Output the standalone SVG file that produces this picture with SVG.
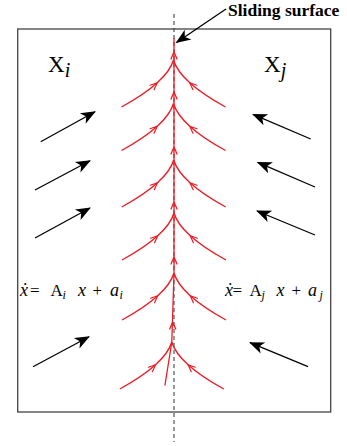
<svg xmlns="http://www.w3.org/2000/svg" xmlns:xlink="http://www.w3.org/1999/xlink" width="347" height="446" viewBox="0 0 347 446">
<style>
.red{fill:none;stroke:#ee1c25;stroke-width:1.3;stroke-linecap:round;stroke-linejoin:round}
.blk{fill:none;stroke:#000;stroke-width:1.3;marker-end:url(#ah)}
.lbl{font-family:"Liberation Serif","Times New Roman",serif;fill:#000}
.it{font-style:italic}
</style>
<defs>
<marker id="chev" markerUnits="userSpaceOnUse" orient="auto" refX="0" refY="0" markerWidth="10" markerHeight="10" overflow="visible">
<path d="M-7,-3 L0,0 L-7,3" fill="none" stroke="#ee1c25" stroke-width="1.2" stroke-linecap="round" stroke-linejoin="round"/>
</marker>
<marker id="ah" markerUnits="userSpaceOnUse" orient="auto" refX="0" refY="0" markerWidth="16" markerHeight="14" overflow="visible">
<path d="M1,0 L-14,-6 L-10,0 L-14,6 Z" fill="#000"/>
</marker>
<path id="br" d="M-52 47 Q-29.25 34.5 -16.25 22.75 Q-3.25 11 0 0" fill="none" stroke="#ee1c25" stroke-width="1.4" marker-mid="url(#chev)"/>
</defs>

<g id="frame">
<rect x="17.7" y="29" width="313" height="383" fill="none" stroke="#444" stroke-width="1.3"/>
</g>

<g id="surface-line">
<line x1="174" y1="14" x2="174" y2="442" stroke="#333" stroke-width="1" stroke-dasharray="4,3"/>
</g>

<g id="trajectories">
<use xlink:href="#br" transform="translate(173.5,60)"/>
<use xlink:href="#br" transform="translate(173.5,60) scale(-1,1)"/>
<use xlink:href="#br" transform="translate(173.5,103.5)"/>
<use xlink:href="#br" transform="translate(173.5,103.5) scale(-1,1)"/>
<use xlink:href="#br" transform="translate(173.7,160)"/>
<use xlink:href="#br" transform="translate(173.7,160) scale(-1,1)"/>
<use xlink:href="#br" transform="translate(174,213)"/>
<use xlink:href="#br" transform="translate(174,213) scale(-1,1)"/>
<use xlink:href="#br" transform="translate(174,273)"/>
<use xlink:href="#br" transform="translate(174,273) scale(-1,1)"/>
<use xlink:href="#br" transform="translate(171.8,342)"/>
<use xlink:href="#br" transform="translate(171.8,342) scale(-1,1)"/>
<path class="red" d="M165 385 L171.8 342 L174 273 L174 38.5" stroke-width="2.4"/>
<path class="red" d="M171 59 L174 52 L177 59"/>
<path class="red" d="M171 99 L174 92 L177 99"/>
<path class="red" d="M171 154 L174 147 L177 154"/>
<path class="red" d="M171 209 L174 202 L177 209"/>
<path class="red" d="M171 264 L174 257 L177 264"/>
<path class="red" d="M169.7 329 L172.7 322 L175.7 329"/>
</g>

<g id="connectors">
<line class="blk" x1="40.7" y1="141.7" x2="95" y2="111.7"/>
<line class="blk" x1="35" y1="190" x2="90" y2="160.7"/>
<line class="blk" x1="35" y1="238" x2="90" y2="208"/>
<line class="blk" x1="33" y1="366.7" x2="89" y2="336.7"/>
<line class="blk" x1="310.7" y1="139" x2="253" y2="114.3"/>
<line class="blk" x1="315" y1="187" x2="257.7" y2="162.3"/>
<line class="blk" x1="315" y1="235" x2="257" y2="211"/>
<line class="blk" x1="308" y1="366.7" x2="250" y2="342.7"/>
<line class="blk" x1="226" y1="9" x2="176.5" y2="42.5"/>
</g>

<g id="label-sliding">
<text class="lbl" x="228" y="16" font-size="17.5" font-weight="bold">Sliding surface</text>
</g>

<g id="label-Xi">
<text class="lbl" x="48" y="71.7" font-size="23">X<tspan class="it" font-size="20" dy="5">i</tspan></text>
</g>
<g id="label-Xj">
<text class="lbl" x="264" y="71.7" font-size="23">X<tspan class="it" font-size="20" dy="5">j</tspan></text>
</g>

<g id="eq-left">
<text class="lbl it" x="20" y="296" font-size="18">ẋ</text>
<text class="lbl" x="30" y="296" font-size="17">=</text>
<text class="lbl" x="50.5" y="296" font-size="17">A</text>
<text class="lbl it" x="62.5" y="299" font-size="12">i</text>
<text class="lbl it" x="78" y="296" font-size="18">x</text>
<text class="lbl" x="92.5" y="296" font-size="17">+</text>
<text class="lbl it" x="110" y="296" font-size="18">a</text>
<text class="lbl it" x="119.5" y="299" font-size="12">i</text>
</g>
<g id="eq-right">
<text class="lbl it" x="225" y="296" font-size="18">ẋ</text>
<text class="lbl" x="232.5" y="296" font-size="17">=</text>
<text class="lbl" x="249.5" y="296" font-size="17">A</text>
<text class="lbl it" x="261.5" y="299" font-size="12">j</text>
<text class="lbl it" x="276.5" y="296" font-size="18">x</text>
<text class="lbl" x="291.5" y="296" font-size="17">+</text>
<text class="lbl it" x="308" y="296" font-size="18">a</text>
<text class="lbl it" x="319.5" y="299" font-size="12">j</text>
</g>
</svg>
